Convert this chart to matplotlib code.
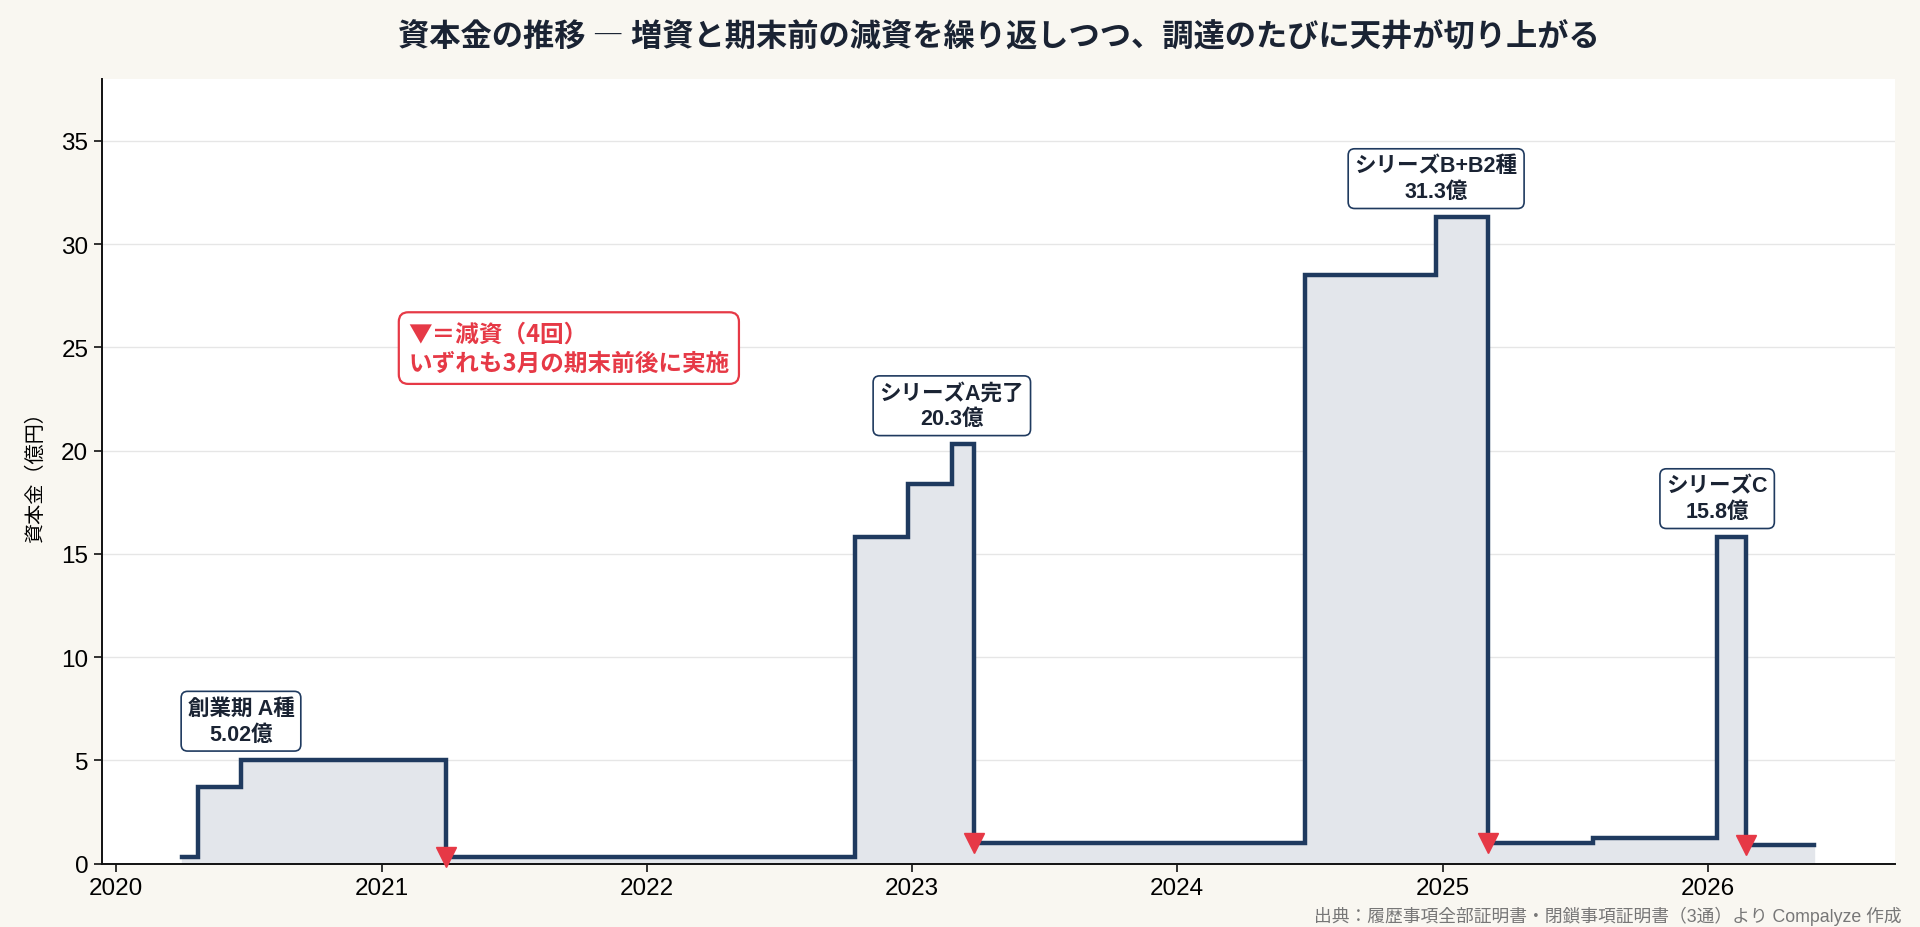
import matplotlib
matplotlib.use("Agg")
import matplotlib.pyplot as plt
import matplotlib.dates as mdates
import pandas as pd

plt.rcParams['font.family'] = ['Liberation Sans', 'Noto Sans CJK JP', 'DejaVu Sans']

# 資本金の推移（億円）: 変更日と変更後の金額
dates = ["2020-04-01", "2020-04-23", "2020-06-21", "2021-03-31",
         "2022-10-14", "2022-12-27", "2023-02-25", "2023-03-28",
         "2024-06-25", "2024-12-23", "2025-03-04", "2025-07-27",
         "2026-01-14", "2026-02-23", "2026-05-28"]
capital = [0.3, 3.7, 5.02, 0.3, 15.8, 18.4, 20.3, 1.0,
           28.5, 31.3, 1.0, 1.25, 15.8, 0.9, 0.9]

# 減資の時点（dates の添字）
cut_idx = [3, 7, 10, 13]

# ピークのラベル
peak_idx = [2, 6, 9, 12]
peak_labels = ["創業期 A種\n5.02億", "シリーズA完了\n20.3億",
               "シリーズB+B2種\n31.3億", "シリーズC\n15.8億"]

NAVY = "#1f3a5f"
RED = "#e63946"
BG = "#f9f7f1"

x = pd.to_datetime(dates)

fig = plt.figure(figsize=(19.2, 9.28), dpi=100, facecolor=BG)
ax = fig.add_axes([0.0529, 0.0684, 0.9341, 0.8454])
ax.set_facecolor("white")

ax.fill_between(x, capital, step="post", color="#e3e6eb", zorder=1)
ax.plot(x, capital, drawstyle="steps-post", color=NAVY, lw=3.2,
        solid_joinstyle="miter", zorder=3)
ax.plot(x[cut_idx], [capital[i] for i in cut_idx], "v", color=RED,
        ms=15, zorder=4, clip_on=False)

for i, lab in zip(peak_idx, peak_labels):
    ax.annotate(lab, (x[i], capital[i]), xytext=(0, 11),
                textcoords="offset points", ha="center", va="bottom",
                fontsize=15.5, fontweight="bold", color="#1a2333",
                linespacing=1.3,
                bbox=dict(boxstyle="round,pad=0.3", fc="white",
                          ec=NAVY, lw=1.2), zorder=5)

ax.text(0.171, 0.657, "▼＝減資（4回）\nいずれも3月の期末前後に実施",
        transform=ax.transAxes, ha="left", va="center", fontsize=17,
        fontweight="bold", color=RED, linespacing=1.25,
        family=['Noto Sans CJK JP', 'DejaVu Sans'],
        bbox=dict(boxstyle="round,pad=0.4", fc="white", ec=RED, lw=1.6),
        zorder=5)

ax.set_ylim(0, 38)
ax.set_xlim(pd.Timestamp("2019-12-12"), pd.Timestamp("2026-09-16"))
ax.set_yticks(range(0, 36, 5))
ax.xaxis.set_major_locator(mdates.YearLocator())
ax.xaxis.set_major_formatter(mdates.DateFormatter("%Y"))
ax.tick_params(labelsize=17.5, length=6, width=1.2, color="#111111")

ax.grid(axis="y", color="#e6e6e6", lw=1)
ax.set_axisbelow(True)
for s in ["top", "right"]:
    ax.spines[s].set_visible(False)
for s in ["left", "bottom"]:
    ax.spines[s].set_linewidth(1.4)
    ax.spines[s].set_color("#111111")

ax.set_ylabel("資本金（億円）", fontsize=14.5, labelpad=12)

fig.text(0.52, 0.959, "資本金の推移 ― 増資と期末前の減資を繰り返しつつ、調達のたびに天井が切り上がる",
         ha="center", va="center", fontsize=22.5, fontweight="bold", color="#1a2333",
         family=['Noto Sans CJK JP', 'DejaVu Sans'])
fig.text(0.9906, 0.013, "出典：履歴事項全部証明書・閉鎖事項証明書（3通）より Compalyze 作成",
         ha="right", va="center", fontsize=12.8, color="#777777")

fig.savefig("out.png", dpi=100, facecolor=BG)
